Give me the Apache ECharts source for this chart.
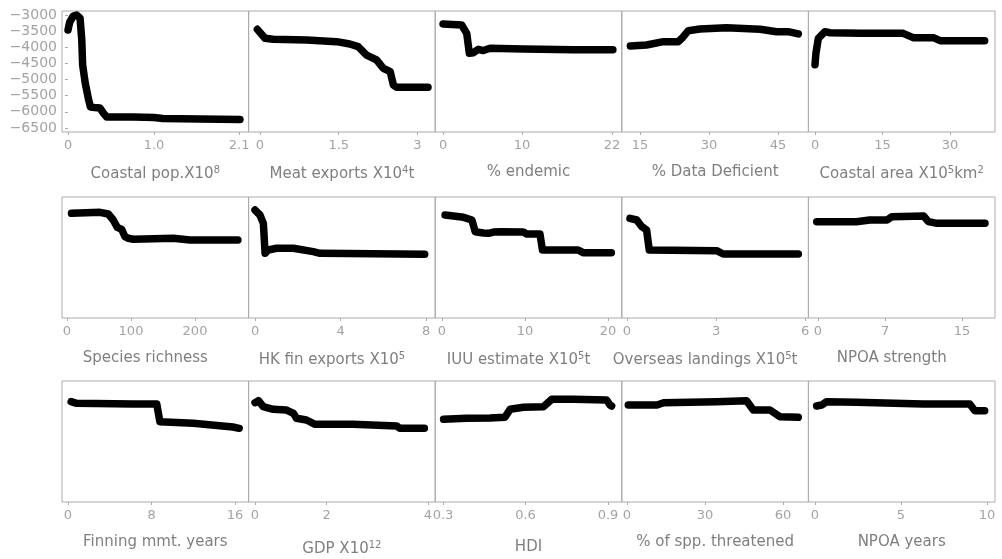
<!DOCTYPE html>
<html>
<head>
<meta charset="utf-8">
<script src="https://cdn.jsdelivr.net/npm/echarts@6/dist/echarts.min.js"></script>
<style>
  html, body { margin: 0; padding: 0; background: #fff; }
  #chart { width: 1002px; height: 559px; }
</style>
</head>
<body>
<div id="chart"></div>
<script>
// shared y scale
var yMin = -6625
var yMax = -2875
var yTicks = [-6500, -6000, -5500, -5000, -4500, -4000, -3500, -3000]

// row 1
var coastalPopX = [0, 0.02, 0.06, 0.1, 0.14, 0.16, 0.17, 0.2, 0.24, 0.26, 0.31, 0.37, 0.41, 0.45, 0.76, 1.0, 1.1, 1.53, 2.0]
var coastalPopY = [-3464, -3217, -3031, -3000, -3093, -3774, -4548, -5105, -5632, -5848, -5864, -5879, -6034, -6158, -6158, -6173, -6204, -6220, -6235]
var meatX = [-0.05, 0.095, 0.25, 0.89, 1.46, 1.71, 1.87, 2.03, 2.22, 2.35, 2.48, 2.54, 2.6, 3.2]
var meatY = [-3443, -3721, -3753, -3774, -3825, -3898, -3980, -4240, -4390, -4650, -4755, -5167, -5240, -5240]
var endemicX = [0, 2.36, 3.0, 3.33, 3.84, 4.47, 5.1, 5.95, 10.2, 16.5, 21.5]
var endemicY = [-3279, -3310, -3567, -4186, -4167, -4062, -4100, -4031, -4053, -4073, -4073]
var dataDefX = [12.9, 16.4, 20.1, 23.3, 24.1, 25.5, 28.0, 33.8, 41.1, 44.7, 47.2, 49.4]
var dataDefY = [-3960, -3929, -3825, -3825, -3721, -3485, -3433, -3392, -3443, -3516, -3516, -3585]
var coastAreaX = [0, 0.2, 0.74, 2.2, 3.3, 10, 19.6, 21.8, 26.3, 27.8, 37.7]
var coastAreaY = [-4540, -4186, -3721, -3516, -3548, -3567, -3567, -3702, -3702, -3795, -3795]

// row 2
var richnessX = [7, 51.6, 64.5, 72.3, 78.6, 85.4, 90.6, 95.8, 103.6, 166, 192, 267]
var richnessY = [-3381, -3350, -3402, -3588, -3815, -3876, -4105, -4155, -4186, -4155, -4207, -4207]
var hkFinX = [0, 0.23, 0.39, 0.47, 0.62, 1.01, 1.79, 2.72, 3.04, 5.5, 7.93]
var hkFinY = [-3279, -3433, -3692, -4619, -4517, -4464, -4464, -4568, -4619, -4635, -4651]
var iuuX = [0.37, 2.6, 3.6, 4.0, 5.0, 5.6, 6.2, 7.0, 9.8, 10.2, 11.8, 12.1, 16.4, 17.0, 20.4]
var iuuY = [-3433, -3505, -3588, -3950, -3990, -4000, -3960, -3950, -3960, -4022, -4022, -4517, -4517, -4600, -4600]
var overseasX = [0.1, 0.33, 0.5, 0.66, 0.75, 3.02, 3.24, 5.77]
var overseasY = [-3536, -3588, -3795, -3898, -4517, -4538, -4641, -4641]
var npoaStrX = [-0.13, 4.0, 5.4, 7.2, 7.7, 11.0, 11.5, 12.4, 17.4]
var npoaStrY = [-3640, -3640, -3588, -3588, -3485, -3464, -3640, -3692, -3692]

// row 3
var finningX = [0.3, 0.83, 6.25, 8.5, 8.8, 12.0, 15.8, 16.4]
var finningY = [-3516, -3567, -3588, -3588, -4135, -4186, -4300, -4341]
var gdpX = [0, 0.08, 0.19, 0.42, 0.73, 0.89, 0.96, 1.19, 1.39, 2.27, 3.28, 3.35, 3.92]
var gdpY = [-3547, -3485, -3671, -3753, -3774, -3877, -4031, -4084, -4217, -4217, -4269, -4341, -4341]
var hdiX = [0.302, 0.386, 0.471, 0.525, 0.544, 0.592, 0.665, 0.695, 0.774, 0.895, 0.907, 0.913]
var hdiY = [-4062, -4031, -4020, -4000, -3753, -3691, -3671, -3443, -3443, -3464, -3619, -3650]
var threatX = [0.5, 11.5, 14.1, 24.2, 34.5, 46, 48.6, 55, 58.8, 65.9]
var threatY = [-3619, -3619, -3547, -3536, -3516, -3485, -3774, -3774, -3981, -4000]
var npoaYrX = [0.1, 0.39, 0.68, 2.42, 6.3, 9.0, 9.3, 9.87]
var npoaYrY = [-3650, -3619, -3516, -3536, -3588, -3588, -3795, -3795]

// x axis titles, ranges and tick labels
var titles = [
  'Coastal pop.X10{sup|8}', 'Meat exports X10{sup|4}t', '% endemic', '% Data Deficient', 'Coastal area X10{sup|5}km{sup|2}',
  'Species richness', 'HK fin exports X10{sup|5}', 'IUU estimate X10{sup|5}t', 'Overseas landings X10{sup|5}t', 'NPOA strength',
  'Finning mmt. years', 'GDP X10{sup|12}', 'HDI', '% of spp. threatened', 'NPOA years'
]
var xMins = [-0.07, -0.217, -0.99, 11.04, -1.47, -7.8, -0.3, -0.82, -0.175, -1.0, -0.575, -0.148, 0.2716, -2.0, -0.38]
var xMaxs = [2.1, 3.337, 22.63, 51.6, 40, 283.75, 8.42, 21.66, 6.11, 18.44, 17.3, 4.17, 0.95, 69.8, 10.47]
var tickVals = [
  [0, 1.0, 1.99], [0, 1.5, 3], [0, 10, 21.4], [15, 30, 45], [0, 15, 30],
  [0, 100, 200], [0, 4, 8], [0, 10, 20], [0, 3, 6], [0, 7, 15],
  [0, 8, 16], [0, 1.66, 4], [0.3, 0.6, 0.9], [0, 30, 60], [0, 5, 10]
]
var tickText = [
  ['0', '1.0', '2.1'], ['0', '1.5', '3'], ['0', '10', '22'], ['15', '30', '45'], ['0', '15', '30'],
  ['0', '100', '200'], ['0', '4', '8'], ['0', '10', '20'], ['0', '3', '6'], ['0', '7', '15'],
  ['0', '8', '16'], ['0', '2', '4'], ['0.3', '0.6', '0.9'], ['0', '30', '60'], ['0', '5', '10']
]

var xs = [coastalPopX, meatX, endemicX, dataDefX, coastAreaX, richnessX, hkFinX, iuuX, overseasX, npoaStrX, finningX, gdpX, hdiX, threatX, npoaYrX]
var ys = [coastalPopY, meatY, endemicY, dataDefY, coastAreaY, richnessY, hkFinY, iuuY, overseasY, npoaStrY, finningY, gdpY, hdiY, threatY, npoaYrY]

var font = 'DejaVu Sans, Verdana, sans-serif'
var left0 = 62
var panelW = 186.6
var rowTops = [11, 197, 381]
var panelH = 121

var grids = []
var xAxes = []
var yAxes = []
var series = []

for (var i = 0; i < 15; i++) {
  var row = Math.floor(i / 5)
  var col = i % 5
  grids.push({
    left: left0 + col * panelW,
    top: rowTops[row],
    width: panelW,
    height: panelH,
    show: true,
    borderColor: '#ababab',
    borderWidth: 1,
    backgroundColor: 'transparent',
    outerBoundsMode: 'none'
  })
  ;(function (k) {
    xAxes.push({
      type: 'value',
      gridIndex: k,
      min: xMins[k],
      max: xMaxs[k],
      splitLine: { show: false },
      axisLine: { show: false },
      axisTick: { show: true, length: 3, customValues: tickVals[k], lineStyle: { color: '#ababab' } },
      axisLabel: {
        customValues: tickVals[k],
        color: '#a3a3a3',
        fontSize: 13,
        fontFamily: font,
        margin: 7,
        formatter: function (v) {
          var idx = tickVals[k].indexOf(v)
          return idx >= 0 ? tickText[k][idx] : ''
        }
      },
      name: titles[k],
      nameLocation: 'middle',
      nameGap: (k === 11 || k === 12) ? 38 : 33,
      nameTextStyle: {
        color: '#7f7f7f',
        fontSize: 15,
        fontFamily: font,
        padding: Math.floor(k / 5) === 1 ? [0, 20, 0, 0] : 0,
        rich: {
          sup: { fontSize: 10, color: '#7f7f7f', fontFamily: font, padding: [0, 0, 8, 0] }
        }
      }
    })
  })(i)
  yAxes.push({
    type: 'value',
    gridIndex: i,
    min: yMin,
    max: yMax,
    show: i === 0,
    splitLine: { show: false },
    axisLine: { show: false },
    axisTick: { show: true, length: 3, customValues: yTicks, lineStyle: { color: '#ababab' } },
    axisLabel: {
      customValues: yTicks,
      color: '#a3a3a3',
      fontSize: 14,
      fontFamily: font,
      margin: 5,
      formatter: function (v) { return String(v).replace('-', '\u2212') }
    }
  })
  series.push({
    type: 'line',
    xAxisIndex: i,
    yAxisIndex: i,
    data: xs[i].map(function (v, j) { return [v, ys[i][j]] }),
    showSymbol: false,
    clip: false,
    silent: true,
    lineStyle: { color: '#000', width: 7.5, cap: 'round', join: 'round' }
  })
}

var myChart = echarts.init(document.getElementById('chart'))
myChart.setOption({
  backgroundColor: '#fff',
  animation: false,
  grid: grids,
  xAxis: xAxes,
  yAxis: yAxes,
  series: series
})
</script>
</body>
</html>
